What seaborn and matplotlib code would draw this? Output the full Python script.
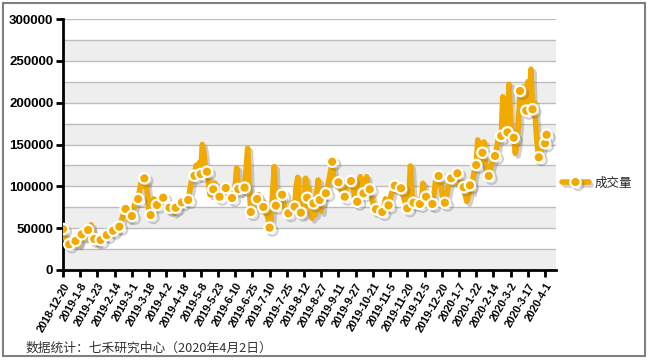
import numpy as np
import pandas as pd
import matplotlib
matplotlib.use('Agg')
import matplotlib.pyplot as plt
import matplotlib.patheffects as pe
from matplotlib.patches import Rectangle
from matplotlib.lines import Line2D
from matplotlib.font_manager import FontProperties
import seaborn as sns

# ---- data ----
tick_labels = ['2018-12-20', '2019-1-8', '2019-1-23', '2019-2-14', '2019-3-1', '2019-3-18',
               '2019-4-2', '2019-4-18', '2019-5-8', '2019-5-23', '2019-6-10', '2019-6-25',
               '2019-7-10', '2019-7-25', '2019-8-12', '2019-8-27', '2019-9-11', '2019-9-27',
               '2019-10-21', '2019-11-5', '2019-11-20', '2019-12-5', '2019-12-20', '2020-1-7',
               '2020-1-22', '2020-2-14', '2020-3-2', '2020-3-17', '2020-4-1']
tick_step = 11  # trading days between labels

volume = [
    49000, 42000, 36000, 33000, 30700, 34000, 37000, 32000, 34700, 38000, 30000, 36000,
    42700, 40000, 38000, 44000, 47800, 50000, 54000, 44000, 37000, 33000, 31000, 34000,
    35900, 38000, 40000, 39000, 41800, 44000, 43000, 45000, 47000, 46000, 49000, 48000,
    51800, 58000, 63000, 70000, 72900, 68000, 60000, 62000, 64500, 72000, 80000, 83000,
    84900, 96000, 105000, 100000, 109600, 107000, 90000, 70000, 65700, 72000, 85000, 75000,
    77700, 82000, 88000, 84000, 86400, 80000, 78000, 72000, 74500, 70000, 78000, 68000,
    74500, 72000, 78000, 82000, 80900, 84000, 82000, 86000, 83700, 95000, 105000, 110000,
    112700, 125000, 118000, 128000, 114700, 150000, 140000, 120000, 117500, 105000, 90000, 95000,
    96500, 104000, 92000, 95000, 87600, 93000, 100000, 96000, 98000, 92000, 88000, 84000,
    86000, 90000, 100000, 122000, 96800, 92000, 100000, 95000, 98400, 120000, 145500, 100000,
    69300, 75000, 82000, 88000, 84900, 90000, 82000, 78000, 75300, 80000, 68000, 62000,
    50600, 62000, 95000, 123500, 76900, 85000, 80000, 95000, 90000, 80000, 72000, 66000,
    67800, 70000, 80000, 72000, 75700, 100000, 110800, 80000, 68500, 66000, 75000, 109600,
    86400, 98000, 75000, 62000, 79700, 66000, 90000, 107600, 83700, 70000, 95000, 88000,
    91700, 100000, 108000, 118000, 129400, 110000, 106000, 100000, 104800, 108000, 95000, 90000,
    87600, 98000, 104000, 108000, 106400, 100000, 92000, 85000, 81600, 105000, 111500, 95000,
    91700, 98000, 111500, 100000, 96500, 88000, 80000, 76000, 72600, 70000, 68000, 72000,
    69300, 74000, 85000, 80000, 77300, 84000, 92000, 96000, 100800, 104000, 95000, 100000,
    97700, 92000, 85000, 78000, 73700, 90000, 124300, 90000, 80400, 85000, 78000, 84000,
    78900, 82000, 103600, 92000, 87600, 84000, 80000, 76000, 78900, 90000, 105500, 108000,
    112400, 105000, 95000, 84000, 80400, 88000, 98000, 105000, 109600, 112000, 108000, 104000,
    115600, 110000, 104000, 100000, 98900, 90000, 82000, 88000, 101200, 93600, 110000, 120000,
    125500, 155400, 128000, 132000, 140200, 153000, 125000, 115000, 112400, 120000, 128000, 132000,
    136300, 145000, 155000, 160000, 160200, 207000, 175000, 160000, 164600, 222000, 180000, 165000,
    158100, 139500, 150000, 175000, 214000, 200000, 219000, 205000, 190400, 225000, 200000, 240000,
    192100, 200000, 175000, 150000, 134700, 140000, 145000, 150000, 151400, 161700,
]
series_name = '成交量'
footer = '数据统计：七禾研究中心（2020年4月2日）'

df = pd.DataFrame({'day': np.arange(len(volume)), 'volume': volume})

# ---- style ----
sns.set_theme(style='white')
plt.rcParams['font.family'] = ['Liberation Sans', 'Noto Sans CJK SC', 'DejaVu Sans']
orange = '#F2A900'

fig = plt.figure(figsize=(6.48, 3.61), dpi=100)
W, H = 648, 361
ax = fig.add_axes([63 / W, 1 - 270 / H, (556 - 63) / W, 251 / H])

# background bands + grid
for lo in range(0, 300000, 50000):
    ax.axhspan(lo, lo + 25000, color='#EEEEEE', zorder=0, lw=0)
for y in range(25000, 300001, 25000):
    ax.axhline(y, color='#BDBDBD', lw=1.0, zorder=0.5)

shadow = [pe.SimpleLineShadow(offset=(2, -2), shadow_color='#666666', alpha=0.3), pe.Normal()]
n = len(volume)
marks = list(range(0, n, 4)) + [n - 1]
sns.lineplot(data=df, x='day', y='volume', ax=ax, color=orange, lw=4.0,
             marker='o', markersize=7.5, markerfacecolor=orange, markeredgecolor='white',
             markeredgewidth=1.6, markevery=marks, legend=False, zorder=3,
             path_effects=shadow)

ax.set_xlim(0, 315)
ax.set_ylim(0, 300000)
ax.set_xlabel('')
ax.set_ylabel('')
ax.set_yticks(range(0, 300001, 50000))
ax.set_yticklabels([str(v) for v in range(0, 300001, 50000)], fontsize=9.5, fontweight='bold')
ax.set_xticks([i * tick_step for i in range(len(tick_labels))])
ax.set_xticklabels(tick_labels, rotation=60, ha='right', rotation_mode='anchor',
                   fontsize=7.8, fontweight='bold')
for s in ['top', 'right']:
    ax.spines[s].set_visible(False)
for s in ['left', 'bottom']:
    ax.spines[s].set_color('black')
    ax.spines[s].set_linewidth(2)
ax.tick_params(axis='both', direction='out', length=5, width=2, color='black',
               colors='black', pad=2, left=True, bottom=True)
ax.tick_params(axis='x', pad=3)
ax.grid(False)

handle = Line2D([0], [0], color=orange, lw=4.0, marker='o', markersize=7.5,
                markerfacecolor=orange, markeredgecolor='white', markeredgewidth=1.6,
                path_effects=shadow)
ax.legend(handles=[handle], labels=[series_name], frameon=False, loc='center left',
          bbox_to_anchor=(0.99, 0.347), handlelength=2.1, handletextpad=0.5,
          prop=FontProperties(family='Noto Sans CJK SC', size=9))

fig.text(26 / W, 1 - 348 / H, footer, fontsize=9.2, family=['Noto Sans CJK SC', 'DejaVu Sans'],
         va='center', ha='left', color='#333333')

fig.patches.append(Rectangle((3 / W, 1 - 356 / H), (645 - 3) / W, (356 - 3) / H,
                             transform=fig.transFigure, fill=False, edgecolor='#808080',
                             lw=1.5, zorder=10))

fig.savefig('out.png', dpi=100, facecolor='white')
